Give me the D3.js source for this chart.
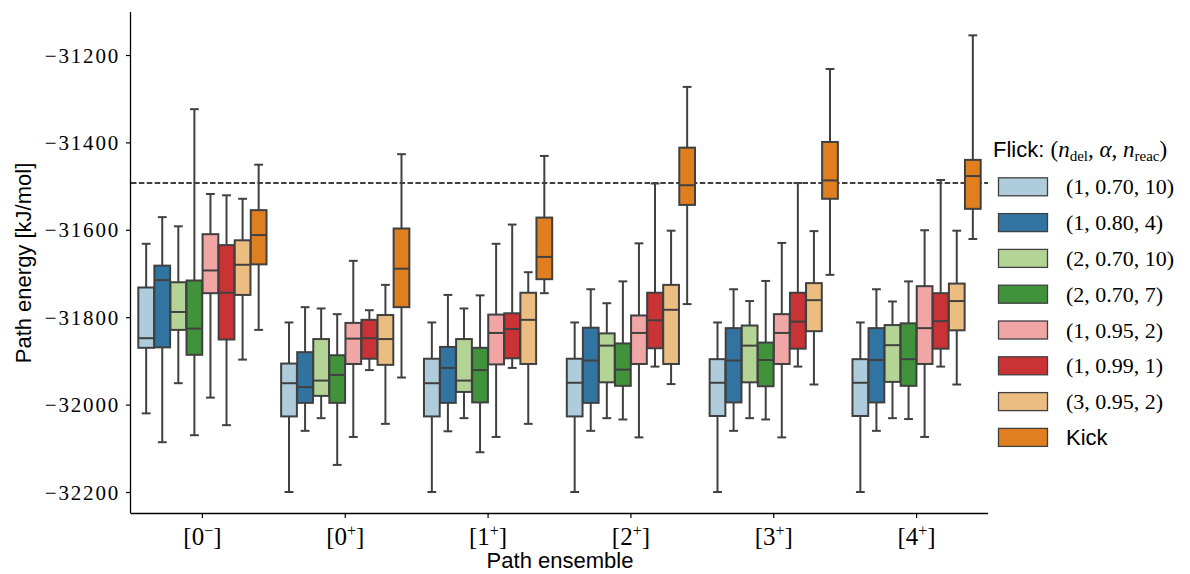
<!DOCTYPE html>
<html lang="en">
<head>
    <meta charset="UTF-8">
    <title>Path energy</title>
    <style>
        body { margin: 0; background: #fff; }
        svg { display: block; }
        .serif { font-family: "Liberation Serif", "DejaVu Serif", serif; }
        .sans { font-family: "Liberation Sans", Arial, sans-serif; }
    </style>
    <script src="https://d3js.org/d3.v7.min.js"></script>
</head>
<body>
    <div id="svg"></div>
    <script>
        const boxWidth = 1190, boxHeight = 574
        const plotLeft = 131, plotRight = 988, plotTop = 12, plotBottom = 513

        // path ensembles (x categories) and flick settings (hue)
        const ensembles = [["0", "\u2212"], ["0", "+"], ["1", "+"], ["2", "+"], ["3", "+"], ["4", "+"]]
        const hueLabels = ["(1, 0.70, 10)", "(1, 0.80, 4)", "(2, 0.70, 10)", "(2, 0.70, 7)",
                           "(1, 0.95, 2)", "(1, 0.99, 1)", "(3, 0.95, 2)", "Kick"]
        const hueColors = ["#a6cee3", "#1f78b4", "#b2df8a", "#33a02c", "#fb9a99", "#e31a1c", "#fdbf6f", "#ff7f00"]

        const yTicks = [-32200, -32000, -31800, -31600, -31400, -31200]
        const refEnergy = -31493

        // box statistics: one row per ensemble, one value per hue
        const whiskerLow = [
            [-32020, -32086, -31951, -32070, -31984, -32047, -31897, -31829],
            [-32200, -32060, -32031, -32138, -32074, -31921, -32044, -31938],
            [-32200, -32061, -32031, -32109, -32074, -31916, -32044, -31745],
            [-32200, -32060, -32031, -32034, -32075, -31913, -31953, -31770],
            [-32200, -32060, -32031, -32034, -32075, -31913, -31954, -31703],
            [-32200, -32060, -32031, -32033, -32074, -31913, -31954, -31621]
        ]
        const quart1 = [
            [-31870, -31869, -31829, -31886, -31745, -31851, -31749, -31679],
            [-32027, -31996, -31980, -31996, -31907, -31895, -31909, -31777],
            [-32027, -31996, -31971, -31995, -31908, -31894, -31907, -31713],
            [-32027, -31996, -31949, -31957, -31907, -31871, -31907, -31543],
            [-32026, -31995, -31949, -31958, -31907, -31872, -31832, -31529],
            [-32026, -31995, -31948, -31957, -31907, -31872, -31830, -31552]
        ]
        const medians = [
            [-31848, -31715, -31788, -31826, -31693, -31744, -31680, -31612],
            [-31951, -31960, -31945, -31932, -31849, -31848, -31850, -31689],
            [-31951, -31916, -31945, -31921, -31836, -31827, -31806, -31662],
            [-31950, -31899, -31865, -31920, -31836, -31807, -31783, -31498],
            [-31950, -31899, -31865, -31898, -31836, -31810, -31761, -31487],
            [-31950, -31898, -31864, -31896, -31825, -31809, -31763, -31477]
        ]
        const quart3 = [
            [-31732, -31682, -31720, -31716, -31610, -31635, -31624, -31555],
            [-31906, -31880, -31850, -31887, -31813, -31806, -31795, -31597],
            [-31895, -31868, -31850, -31870, -31794, -31791, -31744, -31572],
            [-31895, -31824, -31837, -31860, -31796, -31744, -31726, -31412],
            [-31896, -31825, -31819, -31858, -31793, -31744, -31722, -31399],
            [-31896, -31825, -31818, -31814, -31729, -31745, -31723, -31440]
        ]
        const whiskerHigh = [
            [-31632, -31571, -31592, -31324, -31518, -31521, -31529, -31451],
            [-31812, -31777, -31780, -31793, -31671, -31784, -31726, -31427],
            [-31812, -31749, -31780, -31750, -31632, -31588, -31697, -31431],
            [-31812, -31736, -31768, -31718, -31631, -31494, -31602, -31273],
            [-31812, -31736, -31763, -31717, -31630, -31493, -31603, -31232],
            [-31812, -31736, -31764, -31718, -31601, -31486, -31602, -31155]
        ]

        const lineGray = "#404040"

        // seaborn style desaturation (saturation 0.75)
        const desat = c => { const h = d3.hsl(c); h.s *= 0.75; return h.formatHex() }
        const fills = hueColors.map(desat)

        const svg = d3.select("#svg").append("svg").attr("width", boxWidth).attr("height", boxHeight)
        svg.append("rect").attr("width", boxWidth).attr("height", boxHeight).attr("fill", "#fff")

        const xScale = d3.scaleBand().domain(d3.range(ensembles.length)).range([plotLeft, plotRight])
        const yScale = d3.scaleLinear().domain([-32248, -31101.6]).range([plotBottom, plotTop])
        const hueScale = d3.scaleBand().domain(d3.range(hueLabels.length))
            .range([-0.45 * xScale.bandwidth(), 0.45 * xScale.bandwidth()])

        function renderAxes() {
            const g = svg.append("g")

            // reference line
            g.append("line")
                .attr("x1", plotLeft).attr("x2", plotRight)
                .attr("y1", yScale(refEnergy)).attr("y2", yScale(refEnergy))
                .attr("stroke", "#000").attr("stroke-width", 1.4)
                .attr("stroke-dasharray", "5.5,2.4")

            const yAxis = d3.axisLeft(yScale).tickValues(yTicks).tickSize(5).tickPadding(6)
                .tickFormat(d => "\u2212" + Math.abs(d))
            const yg = g.append("g").attr("transform", `translate(${plotLeft},0)`).call(yAxis)
            yg.select(".domain").attr("d", `M-0.5,${plotTop}V${plotBottom}`).attr("stroke-width", 1.3)
            yg.selectAll(".tick line").attr("stroke-width", 1.2)
            yg.selectAll(".tick text").attr("class", "serif").attr("font-size", 21).attr("fill", "#000")
                .attr("dy", "0.34em").attr("letter-spacing", 1.8)

            const xAxis = d3.axisBottom(xScale).tickSize(5).tickFormat("")
            const xg = g.append("g").attr("transform", `translate(0,${plotBottom})`).call(xAxis)
            xg.select(".domain").attr("d", `M${plotLeft - 0.5},0.5H${plotRight}`).attr("stroke-width", 1.3)
            xg.selectAll(".tick line").attr("stroke-width", 1.2)

            const labels = g.selectAll(".xlab").data(ensembles).enter().append("text")
                .attr("class", "xlab serif")
                .attr("x", (d, i) => xScale(i) + xScale.bandwidth() / 2)
                .attr("y", 545)
                .attr("text-anchor", "middle")
                .attr("font-size", 25)
            labels.append("tspan").text(d => "[" + d[0])
            labels.append("tspan").attr("dy", -9).attr("font-size", 16).text(d => d[1])
            labels.append("tspan").attr("dy", 9).text("]")

            g.append("text").attr("class", "sans").attr("font-size", 22)
                .attr("x", 560).attr("y", 568).attr("text-anchor", "middle")
                .text("Path ensemble")
            g.append("text").attr("class", "sans").attr("font-size", 22)
                .attr("transform", "translate(31,263) rotate(-90)").attr("text-anchor", "middle")
                .text("Path energy [kJ/mol]")
        }

        function renderBoxes() {
            const rows = []
            ensembles.forEach((e, gi) => {
                hueLabels.forEach((h, hi) => {
                    rows.push({
                        gi, hi,
                        lo: whiskerLow[gi][hi], q1: quart1[gi][hi], med: medians[gi][hi],
                        q3: quart3[gi][hi], hi_: whiskerHigh[gi][hi]
                    })
                })
            })
            const bw = hueScale.bandwidth() * 0.98
            const cx = d => xScale(d.gi) + xScale.bandwidth() / 2 + hueScale(d.hi) + hueScale.bandwidth() / 2

            const boxes = svg.append("g").selectAll("g").data(rows).enter().append("g")

            // whiskers
            boxes.append("line")
                .attr("x1", cx).attr("x2", cx)
                .attr("y1", d => yScale(d.lo)).attr("y2", d => yScale(d.q1))
                .attr("stroke", lineGray).attr("stroke-width", 2)
            boxes.append("line")
                .attr("x1", cx).attr("x2", cx)
                .attr("y1", d => yScale(d.q3)).attr("y2", d => yScale(d.hi_))
                .attr("stroke", lineGray).attr("stroke-width", 2)
            // caps
            boxes.append("line")
                .attr("x1", d => cx(d) - bw * 0.28).attr("x2", d => cx(d) + bw * 0.28)
                .attr("y1", d => yScale(d.lo)).attr("y2", d => yScale(d.lo))
                .attr("stroke", lineGray).attr("stroke-width", 2)
            boxes.append("line")
                .attr("x1", d => cx(d) - bw * 0.28).attr("x2", d => cx(d) + bw * 0.28)
                .attr("y1", d => yScale(d.hi_)).attr("y2", d => yScale(d.hi_))
                .attr("stroke", lineGray).attr("stroke-width", 2)
            // box
            boxes.append("rect")
                .attr("x", d => cx(d) - bw / 2)
                .attr("width", bw)
                .attr("y", d => yScale(d.q3))
                .attr("height", d => yScale(d.q1) - yScale(d.q3))
                .attr("fill", d => fills[d.hi])
                .attr("stroke", lineGray).attr("stroke-width", 2)
            // median
            boxes.append("line")
                .attr("x1", d => cx(d) - bw / 2).attr("x2", d => cx(d) + bw / 2)
                .attr("y1", d => yScale(d.med)).attr("y2", d => yScale(d.med))
                .attr("stroke", lineGray).attr("stroke-width", 2)
        }

        function renderLegend() {
            const lg = svg.append("g").attr("transform", "translate(993,0)")

            const title = lg.append("text").attr("x", 0).attr("y", 157).attr("font-size", 22)
            title.append("tspan").attr("class", "sans").text("Flick: ")
            title.append("tspan").attr("class", "serif").attr("font-size", 23).text("(")
            title.append("tspan").attr("class", "serif").attr("font-size", 23).attr("font-style", "italic").text("n")
            title.append("tspan").attr("class", "serif").attr("font-size", 15).attr("dy", 4).text("del")
            title.append("tspan").attr("class", "serif").attr("font-size", 23).attr("dy", -4).text(", ")
            title.append("tspan").attr("class", "serif").attr("font-size", 23).attr("font-style", "italic").text("\u03b1")
            title.append("tspan").attr("class", "serif").attr("font-size", 23).text(", ")
            title.append("tspan").attr("class", "serif").attr("font-size", 23).attr("font-style", "italic").text("n")
            title.append("tspan").attr("class", "serif").attr("font-size", 15).attr("dy", 4).text("reac")
            title.append("tspan").attr("class", "serif").attr("font-size", 23).attr("dy", -4).text(")")

            const items = lg.selectAll(".legend").data(hueLabels).enter().append("g")
                .attr("class", "legend")
                .attr("transform", (d, i) => `translate(0, ${186.3 + i * 35.8})`)

            items.append("rect")
                .attr("x", 5.5).attr("y", -8.5)
                .attr("width", 49).attr("height", 18)
                .attr("fill", (d, i) => fills[i])
                .attr("stroke", lineGray).attr("stroke-width", 1.3)

            items.append("text")
                .attr("class", (d, i) => i === hueLabels.length - 1 ? "sans" : "serif")
                .attr("x", 73).attr("y", 8)
                .attr("font-size", 22)
                .text(d => d)
        }

        renderAxes()
        renderBoxes()
        renderLegend()
    </script>
</body>
</html>
